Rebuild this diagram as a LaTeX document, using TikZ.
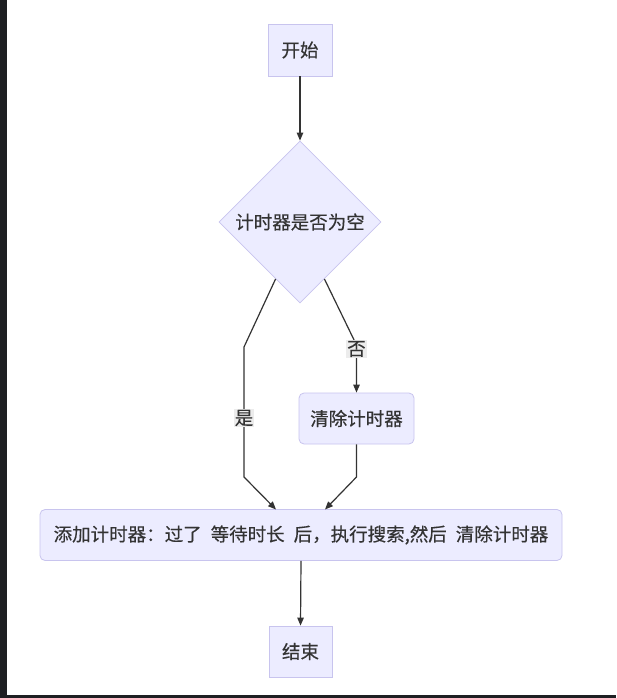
\documentclass[tikz,border=0pt]{standalone}
\usepackage{fontspec}
\setmainfont{Noto Sans CJK SC}
\newfontfamily\cjkmed{Noto Sans CJK SC}[FakeBold=0.35]
\usetikzlibrary{arrows.meta,shapes.geometric,calc}
\definecolor{nodefill}{HTML}{ECECFF}
\definecolor{nodeline}{RGB}{200,196,238}
\definecolor{edgecol}{HTML}{333333}
\definecolor{txtcol}{HTML}{333333}
\definecolor{frame}{HTML}{1E1F22}
\definecolor{lblbg}{RGB}{236,236,236}
\tikzset{
  base/.style={draw=nodeline, fill=nodefill, line width=0.8pt, text=txtcol,
    font=\cjkmed\fontsize{18.5pt}{21pt}\selectfont, inner sep=0pt},
  sqbox/.style={base, rectangle},
  rbox/.style={base, rectangle, rounded corners=5pt},
  decbox/.style={base, diamond, aspect=1},
  conn/.style={draw=edgecol, line width=1.2pt, -{Triangle[length=8pt,width=6.5pt]}},
  elabel/.style={fill=lblbg, text=txtcol, inner sep=1pt,
    font=\cjkmed\fontsize{18.5pt}{21pt}\selectfont}
}
\begin{document}
\begin{tikzpicture}[x=1pt,y=-1pt]
\useasboundingbox (0,0) rectangle (616,698);
\fill[white] (0,0) rectangle (616,698);
\fill[frame] (0,0) rectangle (7,698);
\fill[frame] (0,695) rectangle (616,698);

\node[sqbox, minimum width=64pt, minimum height=52pt] (start) at (300,50) {开始};
\node[decbox, minimum width=162pt, minimum height=162pt] (dec) at (300,222) {计时器是否为空};
\node[rbox, minimum width=115pt, minimum height=51pt] (clear) at (356.5,418.5) {清除计时器};
\node[rbox, minimum width=522pt, minimum height=51pt] (add) at (301,535)
  {添加计时器：过了\hspace{9pt}等待时长\hspace{9pt}后，执行搜索,然后\hspace{9pt}清除计时器};
\node[sqbox, minimum width=63pt, minimum height=51pt] (end) at (300.5,651.5) {结束};

\coordinate (ys) at ($(dec.west)!0.7!(dec.south)$);
\coordinate (y1) at (244,347);
\coordinate (y2) at (244,477);
\coordinate (ye) at (276,509.5);
\coordinate (ns) at ($(dec.east)!0.7!(dec.south)$);
\coordinate (n1) at (356.5,345);
\coordinate (c1) at (356.5,477);
\coordinate (ce) at (325,509.5);

\draw[conn] (start.south) -- (dec.north);
\draw[conn] (ys) -- (y1) -- (y2) -- (ye);
\draw[conn] (ns) -- (n1) -- (clear.north);
\draw[conn] (clear.south) -- (c1) -- (ce);
\draw[conn] (add.south) -- (end.north);

\node[elabel] (lyes) at (244,418) {是};
\node[elabel] (lno) at (356.5,349) {否};
\end{tikzpicture}
\end{document}
